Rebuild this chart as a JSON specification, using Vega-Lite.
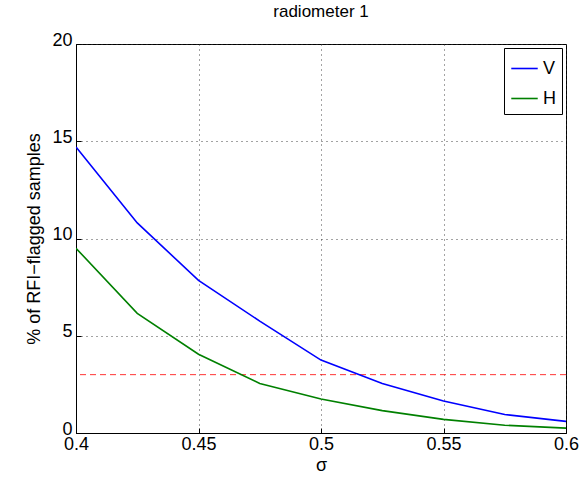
{
  "$schema": "https://vega.github.io/schema/vega-lite/v6.json",
  "autosize": "none",
  "width": 490,
  "height": 389,
  "padding": {"left": 76, "top": 44, "right": 17, "bottom": 47},
  "background": "white",
  "title": {"text": "radiometer 1", "font": "Liberation Sans", "fontSize": 17, "fontWeight": "normal", "offset": 10, "color": "black"},
  "config": {
    "view": {"stroke": "black", "strokeWidth": 1},
    "axis": {
      "labelFont": "Liberation Sans", "labelFontSize": 18, "labelColor": "black",
      "titleFont": "Liberation Sans", "titleFontSize": 18, "titleFontWeight": "normal", "titleColor": "black",
      "domainColor": "black", "tickColor": "black", "tickSize": -5,
      "gridColor": "#333", "gridDash": [1, 4], "gridOpacity": 0.9
    }
  },
  "data": {"values": [
    {"s": 0.4, "v": 14.7, "c": "V"},
    {"s": 0.425, "v": 10.8, "c": "V"},
    {"s": 0.45, "v": 7.85, "c": "V"},
    {"s": 0.475, "v": 5.75, "c": "V"},
    {"s": 0.5, "v": 3.75, "c": "V"},
    {"s": 0.525, "v": 2.55, "c": "V"},
    {"s": 0.55, "v": 1.65, "c": "V"},
    {"s": 0.575, "v": 0.95, "c": "V"},
    {"s": 0.6, "v": 0.6, "c": "V"},
    {"s": 0.4, "v": 9.5, "c": "H"},
    {"s": 0.425, "v": 6.15, "c": "H"},
    {"s": 0.45, "v": 4.05, "c": "H"},
    {"s": 0.475, "v": 2.55, "c": "H"},
    {"s": 0.5, "v": 1.75, "c": "H"},
    {"s": 0.525, "v": 1.15, "c": "H"},
    {"s": 0.55, "v": 0.7, "c": "H"},
    {"s": 0.575, "v": 0.4, "c": "H"},
    {"s": 0.6, "v": 0.25, "c": "H"}
  ]},
  "layer": [
    {
      "data": {"values": [{"t": 3}]},
      "mark": {"type": "rule", "color": "red", "strokeDash": [6, 4], "strokeWidth": 0.8},
      "encoding": {"y": {"field": "t", "type": "quantitative", "scale": {"domain": [0, 20]}}}
    },
    {
      "mark": {"type": "line", "strokeWidth": 1.6, "clip": true},
      "encoding": {
        "x": {"field": "s", "type": "quantitative", "title": "σ",
              "scale": {"domain": [0.4, 0.6], "nice": false, "zero": false},
              "axis": {"values": [0.4, 0.45, 0.5, 0.55, 0.6], "format": "~g", "labelFlush": false, "labelPadding": 7, "titlePadding": 3, "domain": true}},
        "y": {"field": "v", "type": "quantitative", "title": "% of RFI−flagged samples",
              "scale": {"domain": [0, 20], "nice": false},
              "axis": {"values": [0, 5, 10, 15, 20], "labelPadding": 9, "titlePadding": 8, "labelOffset": -4}},
        "color": {"field": "c", "type": "nominal", "sort": ["V", "H"],
                  "scale": {"domain": ["V", "H"], "range": ["#0000ff", "#008000"]},
                  "legend": {"title": null, "orient": "top-right", "offset": 4,
                             "strokeColor": "black", "fillColor": "white", "padding": 6,
                             "symbolType": "stroke", "symbolSize": 700, "symbolStrokeWidth": 1.6,
                             "labelFont": "Liberation Sans", "labelFontSize": 18, "labelColor": "black",
                             "rowPadding": 6, "cornerRadius": 0}}
      }
    }
  ]
}
